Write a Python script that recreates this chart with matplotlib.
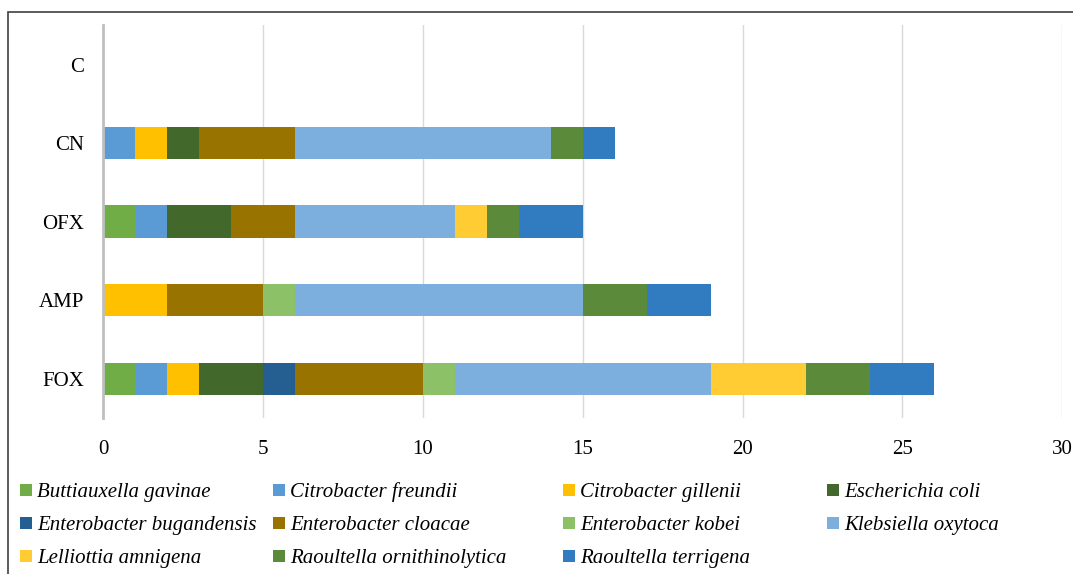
import matplotlib.pyplot as plt
from matplotlib.patches import Rectangle
import numpy as np

plt.rcParams['font.family'] = ['Liberation Serif', 'DejaVu Serif']

categories = ['FOX', 'AMP', 'OFX', 'CN', 'C']
species = ['Buttiauxella gavinae', 'Citrobacter freundii', 'Citrobacter gillenii',
           'Escherichia coli', 'Enterobacter bugandensis', 'Enterobacter cloacae',
           'Enterobacter kobei', 'Klebsiella oxytoca', 'Lelliottia amnigena',
           'Raoultella ornithinolytica', 'Raoultella terrigena']
colors = ['#70AD47', '#5B9BD5', '#FFC000', '#43682B', '#255E91', '#997300',
          '#8CC168', '#7CAFDD', '#FFCD33', '#5A8A3A', '#317BC0']

# counts per species, order follows categories (FOX, AMP, OFX, CN, C)
buttiauxella = [1, 0, 1, 0, 0]
c_freundii = [1, 0, 1, 1, 0]
c_gillenii = [1, 2, 0, 1, 0]
e_coli = [2, 0, 2, 1, 0]
e_bugandensis = [1, 0, 0, 0, 0]
e_cloacae = [4, 3, 2, 3, 0]
e_kobei = [1, 1, 0, 0, 0]
k_oxytoca = [8, 9, 5, 8, 0]
l_amnigena = [3, 0, 1, 0, 0]
r_ornithinolytica = [2, 2, 1, 1, 0]
r_terrigena = [2, 2, 2, 1, 0]

series = [buttiauxella, c_freundii, c_gillenii, e_coli, e_bugandensis, e_cloacae,
          e_kobei, k_oxytoca, l_amnigena, r_ornithinolytica, r_terrigena]

W, H = 1073, 574
fig = plt.figure(figsize=(W / 100, H / 100), dpi=100)
ax = fig.add_axes([0.096, 0.272, 0.894, 0.684])

y = np.arange(len(categories))
left = np.zeros(len(categories))
for name, vals, col in zip(species, series, colors):
    vals = np.array(vals, dtype=float)
    ax.barh(y, vals, left=left, height=0.41, color=col, linewidth=0, zorder=3, label=name)
    left += vals

ax.set_xlim(0, 30)
ax.set_ylim(-0.5, len(categories) - 0.5)
ax.set_xticks(range(0, 31, 5))
ax.set_yticks(y)
ax.set_yticklabels(categories)
ax.tick_params(length=0, labelsize=15)
ax.tick_params(axis='x', pad=16)
ax.tick_params(axis='y', pad=13.5)
ax.grid(True, axis='x', color='#D9D9D9', linewidth=1, zorder=0)
for s in ['top', 'right', 'bottom']:
    ax.spines[s].set_visible(False)
ax.spines['left'].set_color('#BFBFBF')
ax.spines['left'].set_linewidth(2)
ax.spines['left'].set_zorder(4)

# legend laid out like the Excel one: 4 columns, filled row by row
col_px = [20, 273, 563, 827]
row_px = [490, 523, 556]
box = 12
for i, (name, col) in enumerate(zip(species, colors)):
    x0 = col_px[i % 4]
    yc = row_px[i // 4]
    fig.patches.append(Rectangle((x0 / W, 1 - (yc + box / 2) / H), box / W, box / H,
                                 transform=fig.transFigure, facecolor=col, edgecolor='none'))
    fig.text((x0 + box + 5) / W, 1 - (yc + 7) / H, name, fontsize=15, style='italic',
             ha='left', va='baseline')

# outer frame
fig.patches.append(Rectangle((8 / W, -0.1), 1.2, 1 - 12 / H + 0.1,
                             transform=fig.transFigure, fill=False,
                             edgecolor='#404040', linewidth=1.2))

fig.savefig('out.png', dpi=100)
